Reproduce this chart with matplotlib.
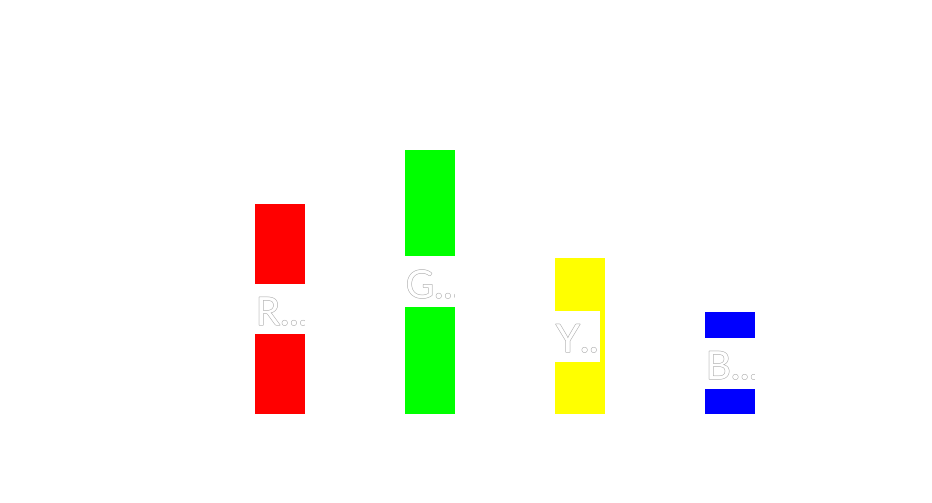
import matplotlib
matplotlib.use("Agg")
import matplotlib.pyplot as plt
import matplotlib.patches as mpatches
import matplotlib.patheffects as pe

# data
labels = ["R...", "G...", "Y...", "B..."]
values = [4, 5.03, 2.97, 1.94]
colors = ["#ff0000", "#00ff00", "#ffff00", "#0000ff"]
box_widths = [1 / 3, 1 / 3, 0.3, 1 / 3]  # label box width in data units

fig = plt.figure(figsize=(9.32, 5.03), dpi=100)
ax = fig.add_axes([0, 0, 1, 1])
ax.set_xlim(-280 / 150, (932 - 280) / 150)
ax.set_ylim(-89 / 52.5, (503 - 89) / 52.5)
ax.axis("off")

bar_w = 1 / 3
x = range(len(values))
ax.bar(x, values, width=bar_w, color=colors, zorder=1)

# white label box in the middle of each bar, text clipped to it
for i, (lab, v, bw) in enumerate(zip(labels, values, box_widths)):
    left = i - bar_w / 2
    box = mpatches.Rectangle((left, v / 2 - 0.485), bw, 0.97,
                             facecolor="white", edgecolor="none", zorder=2)
    ax.add_patch(box)
    t = ax.text(left + 0.005, v / 2 - 0.305, lab, ha="left", va="baseline", fontsize=28,
                color="white", family="Lato", zorder=3,
                path_effects=[pe.Stroke(linewidth=0.7, foreground="#a0a0a0"), pe.Normal()])
    t.set_clip_on(True)
    t.set_clip_path(box)

plt.savefig("out.png", dpi=100)
